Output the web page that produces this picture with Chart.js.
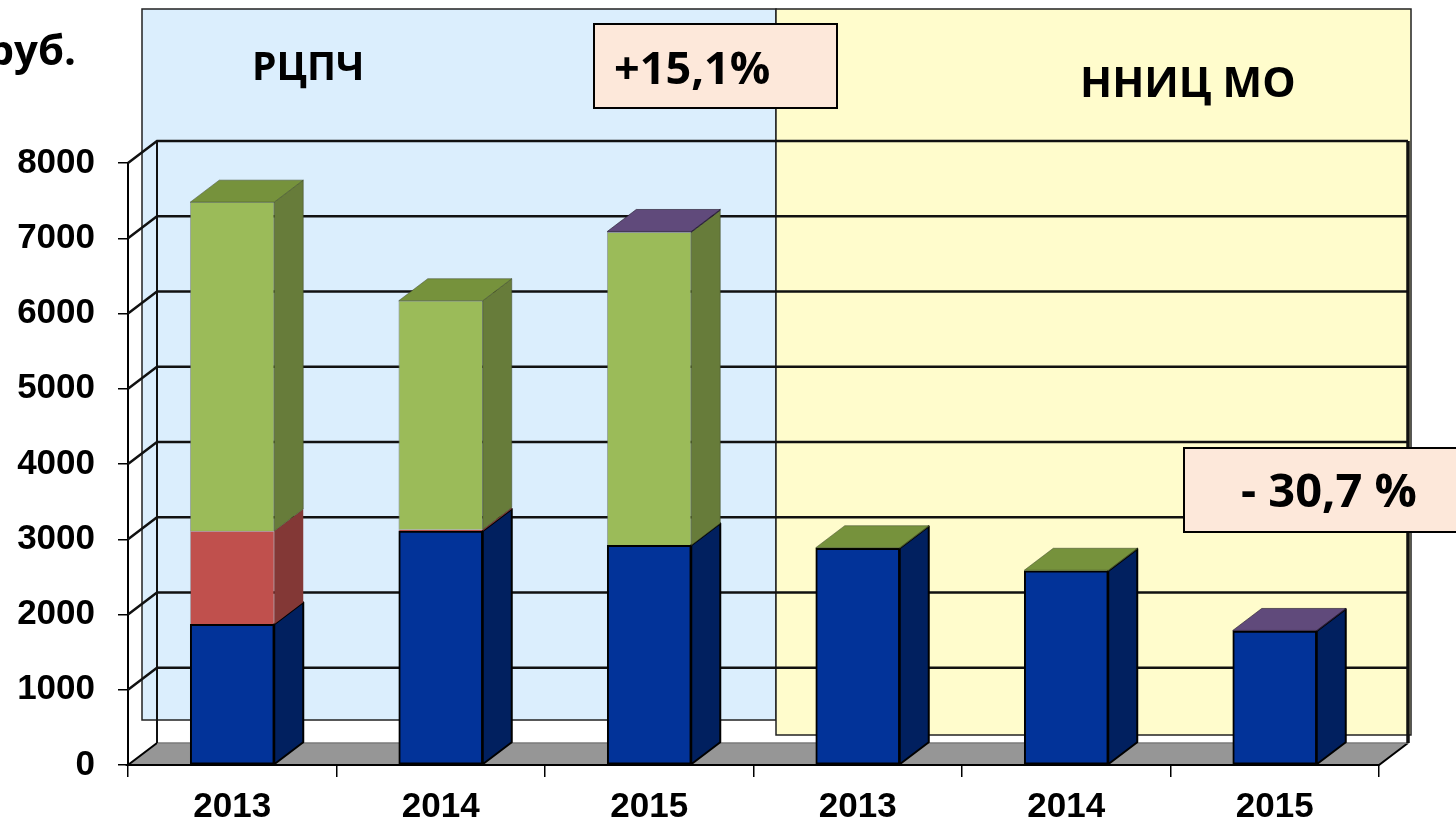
<!DOCTYPE html>
<html>
<head>
<meta charset="utf-8">
<script src="https://cdn.jsdelivr.net/npm/chart.js@4.4.1/dist/chart.umd.min.js"></script>
<style>
  html, body { margin: 0; padding: 0; background: #fff; }
  #wrap { width: 1456px; height: 823px; position: relative; }
</style>
</head>
<body>
<div id="wrap"><canvas id="myChart" width="1456" height="823"></canvas></div>
<script>
// data
const years = ['2013', '2014', '2015', '2013', '2014', '2015'];
const blueValues = [1870, 3110, 2920, 2880, 2580, 1780];
const redValues = [1240, 20, 0, 0, 0, 0];
const greenValues = [4370, 3040, 4160, 8, 8, 0];
const purpleValues = [0, 0, 10, 0, 0, 8];
const yTicks = [0, 1000, 2000, 3000, 4000, 5000, 6000, 7000, 8000];

const unitLabel = 'руб.';
const groupTitles = ['РЦПЧ', 'ННИЦ МО'];
const changeLabels = ['+15,1%', '- 30,7 %'];

// 3d depth offset
const DX = 29, DY = -22;

function poly(c, pts, fill, stroke, lw) {
    c.beginPath();
    c.moveTo(pts[0][0], pts[0][1]);
    for (let i = 1; i < pts.length; i++) c.lineTo(pts[i][0], pts[i][1]);
    c.closePath();
    c.fillStyle = fill;
    c.fill();
    if (stroke) {
        c.strokeStyle = stroke;
        c.lineWidth = lw || 1.5;
        c.lineJoin = 'round';
        c.stroke();
    }
}

const backdrop = {
    id: 'backdrop',
    beforeDraw(chart) {
        const c = chart.ctx;
        c.save();
        c.strokeStyle = '#222';
        c.lineWidth = 1.5;
        c.fillStyle = '#dbeefd';
        c.fillRect(142, 9, 634, 711);
        c.strokeRect(142, 9, 634, 711);
        c.fillStyle = '#fffccc';
        c.fillRect(776, 9, 635, 726);
        c.strokeRect(776, 9, 635, 726);
        c.restore();
    },
    beforeDatasetsDraw(chart) {
        const c = chart.ctx;
        const y = chart.scales.y;
        const a = chart.chartArea;
        const l = a.left, r = a.right, b = y.getPixelForValue(0);
        const t = y.getPixelForValue(8000);
        c.save();
        // floor
        poly(c, [[l, b], [r, b], [r + DX, b + DY], [l + DX, b + DY]], '#969696', null);
        c.strokeStyle = '#000';
        c.lineWidth = 2;
        c.beginPath();
        c.moveTo(l + DX, b + DY); c.lineTo(l, b); c.lineTo(r, b); c.lineTo(r + DX, b + DY);
        c.stroke();
        c.strokeStyle = '#7a7a7a';
        c.lineWidth = 1.5;
        c.beginPath();
        c.moveTo(l + DX, b + DY); c.lineTo(r + DX, b + DY);
        c.stroke();
        // grid lines on side and back walls
        c.strokeStyle = '#111';
        c.lineWidth = 2.5;
        yTicks.forEach(v => {
            if (v === 0) return;
            const py = y.getPixelForValue(v);
            c.beginPath();
            c.moveTo(l, py);
            c.lineTo(l + DX, py + DY);
            c.lineTo(r + DX, py + DY);
            c.stroke();
        });
        c.lineWidth = 2;
        c.beginPath();
        c.moveTo(l + DX, t + DY); c.lineTo(l + DX, b + DY);
        c.stroke();
        c.lineWidth = 3.5;
        c.beginPath();
        c.moveTo(r + DX, t + DY); c.lineTo(r + DX, b + DY);
        c.stroke();
        c.restore();
    }
};

const bars3d = {
    id: 'bars3d',
    afterDatasetsDraw(chart) {
        const c = chart.ctx;
        c.save();
        chart.data.labels.forEach((lab, i) => {
            let top = null;
            chart.data.datasets.forEach((ds, k) => {
                if (!ds.data[i]) return;
                const el = chart.getDatasetMeta(k).data[i];
                const p = el.getProps(['x', 'y', 'base', 'width'], true);
                const x1 = p.x - p.width / 2, x2 = p.x + p.width / 2;
                poly(c, [[x2, p.y], [x2 + DX, p.y + DY], [x2 + DX, p.base + DY], [x2, p.base]],
                    ds.sideColor, ds.edgeColor, ds.edgeWidth);
                top = { x1: x1, x2: x2, y: p.y, ds: ds };
            });
            if (top) {
                poly(c, [[top.x1, top.y], [top.x1 + DX, top.y + DY], [top.x2 + DX, top.y + DY], [top.x2, top.y]],
                    top.ds.topColor, top.ds.edgeColor, top.ds.edgeWidth);
            }
        });
        c.restore();
    }
};

const annotations = {
    id: 'annotations',
    afterDraw(chart) {
        const c = chart.ctx;
        c.save();
        c.fillStyle = '#000';
        c.textBaseline = 'alphabetic';
        c.font = 'bold 42px "Open Sans"';
        c.textAlign = 'right';
        c.fillText(unitLabel, 76, 65);
        c.textAlign = 'left';
        c.font = 'bold 39px "Open Sans"';
        c.fillText(groupTitles[0], 252, 80);
        c.font = 'bold 42px "Open Sans"';
        c.fillText(groupTitles[1], 1080, 97);

        // change boxes
        c.fillStyle = '#fde8da';
        c.strokeStyle = '#000';
        c.lineWidth = 2;
        c.fillRect(594, 24, 243, 84);
        c.strokeRect(594, 24, 243, 84);
        c.fillStyle = '#fde8da';
        c.fillRect(1184, 448, 290, 84);
        c.strokeRect(1184, 448, 290, 84);
        c.fillStyle = '#000';
        c.font = 'bold 45px "Open Sans"';
        c.fillText(changeLabels[0], 614, 84);
        c.font = 'bold 47px "Open Sans"';
        c.fillText(changeLabels[1], 1241, 507);
        c.restore();
    }
};

const ctx = document.getElementById('myChart').getContext('2d');

const tickFont = { family: '"Liberation Sans", Arial, sans-serif', size: 35, weight: 'bold' };

const myChart = new Chart(ctx, {
    type: 'bar',
    data: {
        labels: years,
        datasets: [{
            label: 'Series 1',
            data: blueValues,
            backgroundColor: '#023399',
            borderColor: '#000',
            borderWidth: 2,
            borderSkipped: false,
            sideColor: '#01205f',
            topColor: '#1f3d80',
            edgeColor: '#000',
            edgeWidth: 2
        }, {
            label: 'Series 2',
            data: redValues,
            backgroundColor: '#c0504d',
            borderColor: 'rgba(90,40,40,0.35)',
            borderWidth: 1,
            sideColor: '#833836',
            topColor: '#a04340',
            edgeColor: null
        }, {
            label: 'Series 3',
            data: greenValues,
            backgroundColor: '#9bbb59',
            borderColor: 'rgba(110,120,110,0.6)',
            borderWidth: 1,
            sideColor: '#677c3a',
            topColor: '#76923c',
            edgeColor: 'rgba(60,70,40,0.5)',
            edgeWidth: 1
        }, {
            label: 'Series 4',
            data: purpleValues,
            backgroundColor: '#8064a2',
            borderColor: 'rgba(60,40,80,0.5)',
            borderWidth: 1,
            sideColor: '#4f3c68',
            topColor: '#604a7b',
            edgeColor: 'rgba(30,20,40,0.6)',
            edgeWidth: 1
        }]
    },
    options: {
        responsive: false,
        animation: false,
        events: [],
        barThickness: 84,
        layout: {
            padding: { top: 163, right: 77, left: 0, bottom: 0 }
        },
        scales: {
            x: {
                stacked: true,
                afterFit: function(s) { s.height = 58; },
                ticks: { color: '#000', font: tickFont, padding: 9, maxRotation: 0 },
                grid: { drawOnChartArea: false, color: '#000', lineWidth: 1.5, tickLength: 12, offset: true },
                border: { color: '#000', width: 2 }
            },
            y: {
                stacked: true,
                min: 0,
                max: 8000,
                afterFit: function(s) { s.width = 128; },
                afterBuildTicks: function(s) { s.ticks = yTicks.map(v => ({ value: v })); },
                ticks: {
                    color: '#000',
                    font: tickFont,
                    padding: 23,
                    callback: function(value) { return String(value); }
                },
                grid: { drawOnChartArea: false, color: '#000', lineWidth: 1.5, tickLength: 10 },
                border: { color: '#000', width: 2 }
            }
        },
        plugins: {
            legend: { display: false },
            tooltip: { enabled: false }
        }
    },
    plugins: [backdrop, bars3d, annotations]
});
</script>
</body>
</html>
